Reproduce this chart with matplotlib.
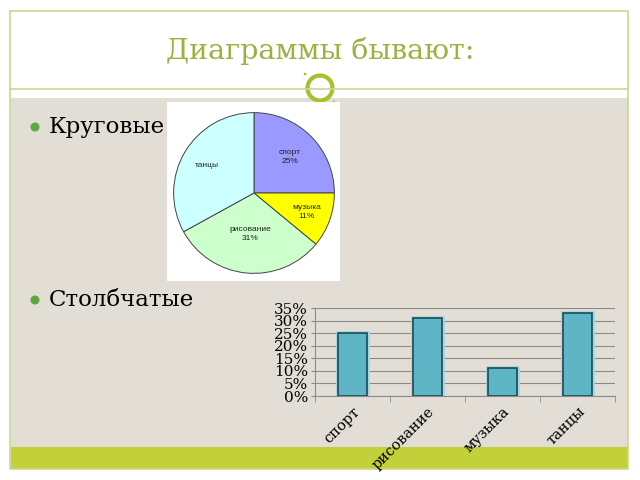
import matplotlib
matplotlib.use('Agg')
import matplotlib.pyplot as plt
from matplotlib.patches import Rectangle, Circle
from matplotlib.ticker import PercentFormatter, FixedLocator
import numpy as np

# ---- data ----
title = 'Диаграммы бывают:'
bullets = ['Круговые', 'Столбчатые']
categories = ['спорт', 'рисование', 'музыка', 'танцы']
values = [25, 31, 11, 33]
pie_order = ['спорт', 'музыка', 'рисование', 'танцы']
pie_values = [25, 11, 31, 33]
pie_labels = ['спорт\n25%', 'музыка\n11%', 'рисование\n31%', 'танцы']
pie_colors = ['#9999FF', '#FFFF00', '#CCFFCC', '#CCFFFF']
pie_label_r = [0.62, 0.68, 0.50, 0.66]
yticks = [0, 5, 10, 15, 20, 25, 30, 35]

W, H = 640, 480
fig = plt.figure(figsize=(6.4, 4.8), dpi=100)
fig.patch.set_facecolor('white')

# ---- slide background ----
bg = fig.add_axes([0, 0, 1, 1])
bg.set_xlim(0, W)
bg.set_ylim(H, 0)
bg.axis('off')
frame_col = '#C9D88F'
bg.add_patch(Rectangle((11, 98), 617, 349, facecolor='#E3DED5', edgecolor='none'))
bg.add_patch(Rectangle((11, 447), 617, 22, facecolor='#C2D03A', edgecolor='none'))
bg.plot([10, 628, 628, 10, 10], [11, 11, 469, 469, 11], color=frame_col, lw=1.2)
bg.plot([10, 628], [89, 89], color=frame_col, lw=1.2)
bg.add_patch(Circle((320, 88), 12.5, facecolor='white', edgecolor='#A8BF2E', lw=3))
bg.add_patch(Circle((305, 74), 1.3, facecolor='#A8BF2E', edgecolor='none'))
bg.add_patch(Circle((334, 102), 1.3, facecolor='#A8BF2E', edgecolor='none'))
bg.text(320, 51, title, ha='center', va='center', fontsize=20.5,
        family='DejaVu Serif', color='#9DB040')

# bullets
for yb, txt in zip([127, 300], bullets):
    bg.add_patch(Circle((35, yb), 4.5, facecolor='#5BA83C', edgecolor='none'))
    bg.text(49, yb, txt, ha='left', va='center', fontsize=16.5,
            family='DejaVu Serif', color='black')

# white box for pie
bg.add_patch(Rectangle((167, 102), 173, 179, facecolor='white', edgecolor='none'))

# ---- pie ----
cx, cy, r = 254, 193, 82
pax = fig.add_axes([(cx - r) / W, 1 - (cy + r) / H, 2 * r / W, 2 * r / H])
wedges, _ = pax.pie(pie_values, colors=pie_colors, startangle=90, counterclock=False,
                    radius=0.98, wedgeprops=dict(edgecolor='#444444', linewidth=0.7))
for w, lab, rr in zip(wedges, pie_labels, pie_label_r):
    ang = np.deg2rad((w.theta1 + w.theta2) / 2)
    pax.text(rr * np.cos(ang), rr * np.sin(ang), lab, ha='center', va='center',
             fontsize=6, family='Liberation Sans', color='#222222', linespacing=1.4)
pax.set_xlim(-1, 1)
pax.set_ylim(-1, 1)
pax.axis('off')

# ---- bar chart ----
x0, x1, y0, y1 = 315, 615, 396, 308
bax = fig.add_axes([x0 / W, 1 - y0 / H, (x1 - x0) / W, (y0 - y1) / H])
bax.patch.set_alpha(0)
xs = np.arange(len(categories))
bax.bar(xs, values, width=0.38, color='#5DB5C6', edgecolor='#A6D7E1', linewidth=3.5, zorder=2)
bax.bar(xs, values, width=0.38, color='#5DB5C6', edgecolor='#1E4A54', linewidth=1.2, zorder=3)
bax.set_xlim(-0.5, len(categories) - 0.5)
bax.set_ylim(0, 35)
bax.set_yticks(yticks)
bax.yaxis.set_major_formatter(PercentFormatter(100, decimals=0))
bax.yaxis.grid(True, color='#8A8A8A', lw=0.8, zorder=0)
bax.set_axisbelow(True)
for s in ['top', 'right']:
    bax.spines[s].set_visible(False)
for s in ['left', 'bottom']:
    bax.spines[s].set_color('#8A8A8A')
    bax.spines[s].set_linewidth(0.8)
bax.tick_params(axis='y', length=3, color='#8A8A8A', labelsize=11, pad=2)
for t in bax.get_yticklabels():
    t.set_family('DejaVu Serif')
bax.set_xticks(xs)
bax.set_xticklabels(categories, rotation=45, ha='right', rotation_mode='anchor',
                    family='DejaVu Serif', fontsize=10.5)
bax.tick_params(axis='x', length=0, pad=6)
bax.xaxis.set_minor_locator(FixedLocator(np.arange(-0.5, len(categories), 1.0)))
bax.tick_params(axis='x', which='minor', length=4, color='#8A8A8A')

fig.savefig('out.png', dpi=100, facecolor='white')
